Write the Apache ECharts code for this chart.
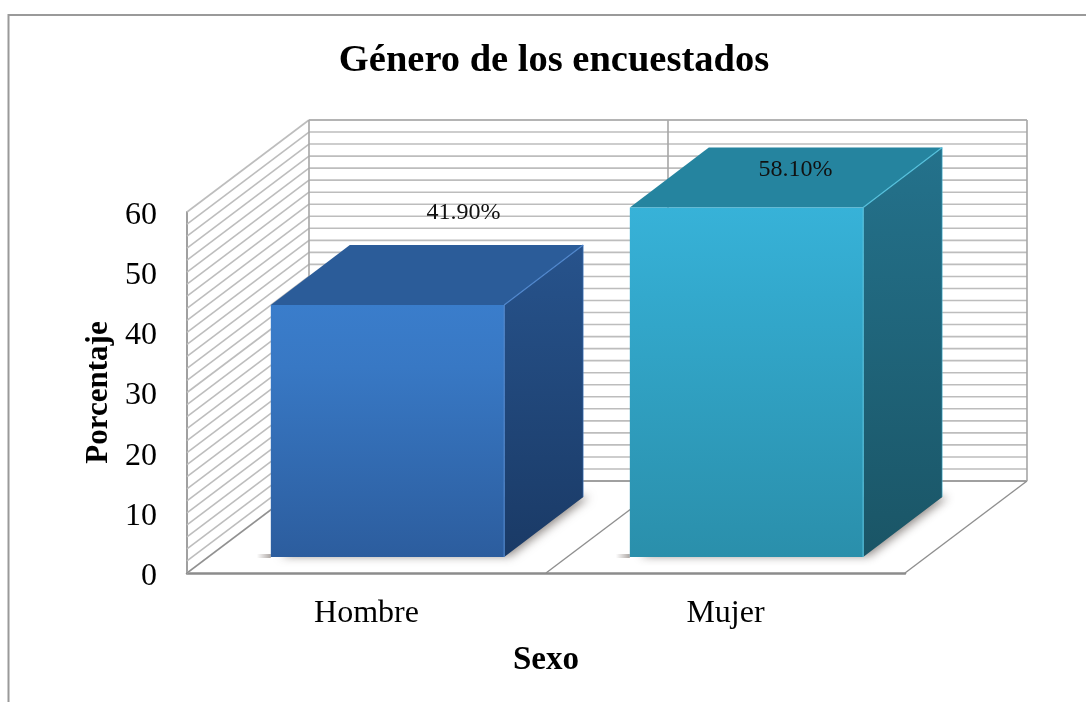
<!DOCTYPE html>
<html>
<head>
<meta charset="utf-8">
<style>html,body{margin:0;padding:0;background:#fff}#c{width:1086px;height:702px}</style>
<script src="https://cdn.jsdelivr.net/npm/echarts@6/dist/echarts.min.js"></script>
</head>
<body>
<div id="c"></div>
<script>
const categories = ['Hombre', 'Mujer'];
const values = [41.9, 58.1];
const titleText = 'Género de los encuestados';
const xName = 'Sexo';
const yName = 'Porcentaje';
const wallLines = [0,2,4,6,8,10,12,14,16,18,20,22,24,26,28,30,32,34,36,38,40,42,44,46,48,50,52,54,56,58,60];

const serif = '"Liberation Serif","Times New Roman",serif';
const WALL = [122, -92];        // full floor depth, px
const BAR_FRONT = [21, -16];    // bar front plane inside the floor
const BAR_BACK = [100, -76];    // bar back plane inside the floor
const LABEL_OFFSET = [[76, -92], [49, -38]]; // moved data labels, from front-top centre
const BAR_STYLE = [
  {front:['#3a7dcb','#3878c4','#2c5d9e'], top:'#2b5c99', side:['#27538c','#1a3a66'], edge:'#4f86cc'},
  {front:['#37b2d8','#33a9cd','#2a8fab'], top:'#25849f', side:['#24728c','#1a5566'], edge:'#55c0dc'}
];

const grad = (stops) => ({type:'linear',x:0,y:0,x2:0,y2:1,
  colorStops:stops.map((c,i)=>({offset:stops.length===3?[0,0.25,1][i]:i,color:c}))});
const gridLineStyle = {stroke:'#bdbdbd', lineWidth:1.6, fill:null};

function renderWall(params, api) {
  const cs = params.coordSys;
  const y = api.coord([0, api.value(1)])[1];
  const xl = cs.x, xb = xl + WALL[0], yb = y + WALL[1], xr = xb + cs.width;
  return {type:'group', children:[
    {type:'line', shape:{x1:xl,y1:y,x2:xb,y2:yb}, style:gridLineStyle},
    {type:'line', shape:{x1:xb,y1:yb,x2:xr,y2:yb}, style:gridLineStyle}
  ]};
}

function renderFloor(params, api) {
  const cs = params.coordSys;
  const y0 = api.coord([0, 0])[1], yTop = api.coord([0, 60])[1];
  const xl = cs.x, xr = cs.x + cs.width, mid = cs.x + cs.width / 2;
  const line = (x1,y1,x2,y2,stroke,lineWidth) => ({type:'line',shape:{x1,y1,x2,y2},style:{stroke,lineWidth,fill:null}});
  return {type:'group', children:[
    line(xl+WALL[0], y0+WALL[1], xr+WALL[0], y0+WALL[1], '#a0a0a0', 2),
    line(xl, y0, xl+WALL[0], y0+WALL[1], '#8f8f8f', 1.4),
    line(xr, y0, xr+WALL[0], y0+WALL[1], '#8f8f8f', 1.4),
    line(mid, y0, mid+WALL[0], y0+WALL[1], '#8f8f8f', 1.4),
    line(xl+WALL[0], yTop+WALL[1], xl+WALL[0], y0+WALL[1], '#a6a6a6', 1.6),
    line(mid+WALL[0], yTop+WALL[1], mid+WALL[0], y0+WALL[1], '#a6a6a6', 1.6),
    line(xr+WALL[0], yTop+WALL[1], xr+WALL[0], y0+WALL[1], '#a6a6a6', 1.6),
    line(xl+WALL[0], yTop+WALL[1], xr+WALL[0], yTop+WALL[1], '#ababab', 1.6)
  ]};
}

function renderBar(params, api) {
  const i = api.value(0), v = api.value(1), s = BAR_STYLE[i];
  const c0 = api.coord([i, 0]), c1 = api.coord([i, v]);
  const w = api.size([1, 0])[0] * 0.65;
  const x0 = c0[0] - w/2 + BAR_FRONT[0], x1 = x0 + w;
  const yb = c0[1] + BAR_FRONT[1], yt = c1[1] + BAR_FRONT[1];
  const dx = BAR_BACK[0] - BAR_FRONT[0], dy = BAR_BACK[1] - BAR_FRONT[1];
  const poly = (points, style) => ({type:'polygon', shape:{points}, style});
  const off = LABEL_OFFSET[i];
  return {type:'group', children:[
    poly([[x0+4,yb-1],[x1,yb-1],[x1+dx,yb+dy],[x0+dx,yb+dy]],
      {fill:'#777', shadowBlur:10, shadowColor:'rgba(70,60,55,0.6)', shadowOffsetX:6, shadowOffsetY:0}),
    {type:'rect', shape:{x:x0-14,y:yb-3,width:14,height:4},
      style:{fill:{type:'linear',x:0,y:0,x2:1,y2:0,colorStops:[{offset:0,color:'rgba(120,110,105,0)'},{offset:1,color:'rgba(120,110,105,0.6)'}]}}},
    poly([[x0,yt],[x1,yt],[x1+dx,yt+dy],[x0+dx,yt+dy]], {fill:s.top}),
    poly([[x1,yt],[x1+dx,yt+dy],[x1+dx,yb+dy],[x1,yb]], {fill:grad(s.side)}),
    {type:'rect', shape:{x:x0,y:yt,width:w,height:yb-yt}, style:{fill:grad(s.front)}},
    {type:'line', shape:{x1:x1,y1:yt,x2:x1+dx,y2:yt+dy}, style:{stroke:s.edge,lineWidth:1.2,fill:null}},
    {type:'line', shape:{x1:x1,y1:yt,x2:x1,y2:yb}, style:{stroke:s.edge,lineWidth:1.2,fill:null}},
    {type:'line', shape:{x1:x1+dx,y1:yt+dy,x2:x1+dx,y2:yb+dy}, style:{stroke:s.edge,lineWidth:0.8,opacity:0.7,fill:null}},
    {type:'text', style:{text:v.toFixed(2)+'%', x:(x0+x1)/2+off[0], y:yt+off[1], align:'center', verticalAlign:'middle',
      font:'24px '+serif, fill:'#111'}}
  ]};
}

const chart = echarts.init(document.getElementById('c'), null, {renderer:'canvas', width:1086, height:702});
chart.setOption({
  animation:false,
  backgroundColor:'#fff',
  title:{text:titleText, left:549, top:37, textAlign:'center',
    textStyle:{fontFamily:serif, fontWeight:'bold', fontSize:38.5, color:'#000'}},
  grid:{left:187, right:181, top:212, bottom:129},
  xAxis:{type:'category', data:categories, name:xName, nameLocation:'middle', nameGap:71,
    nameTextStyle:{fontFamily:serif, fontWeight:'bold', fontSize:33, color:'#000'},
    axisLine:{lineStyle:{color:'#8c8c8c', width:2.5}}, axisTick:{show:false},
    axisLabel:{fontFamily:serif, fontSize:32, color:'#000', margin:25}},
  yAxis:{type:'value', min:0, max:60, interval:10, name:yName, nameLocation:'middle', nameRotate:90, nameGap:69,
    nameTextStyle:{fontFamily:serif, fontWeight:'bold', fontSize:31, color:'#000'},
    axisLine:{show:true, lineStyle:{color:'#a0a0a0', width:2}}, axisTick:{show:false}, splitLine:{show:false},
    axisLabel:{margin:30, formatter:'{a|{value}}',
      rich:{a:{fontFamily:serif, fontSize:32, color:'#000', padding:[7,0,0,0]}}}},
  graphic:[
    {type:'polyline', silent:true, z:-1, shape:{points:[[8.5,702],[8.5,15],[1086,15]]}, style:{stroke:'#9a9a9a', lineWidth:2, fill:null}}
  ],
  series:[
    {type:'custom', coordinateSystem:'cartesian2d', clip:false, silent:true, z:1,
      data:wallLines.map(v=>[0,v]), renderItem:renderWall, encode:{x:0,y:1}},
    {type:'custom', coordinateSystem:'cartesian2d', clip:false, silent:true, z:2,
      data:[[0,0]], renderItem:renderFloor, encode:{x:0,y:1}},
    {type:'custom', coordinateSystem:'cartesian2d', clip:false, silent:true, z:3,
      data:values.map((v,i)=>[i,v]), renderItem:renderBar, encode:{x:0,y:1}}
  ]
});
</script>
</body>
</html>
